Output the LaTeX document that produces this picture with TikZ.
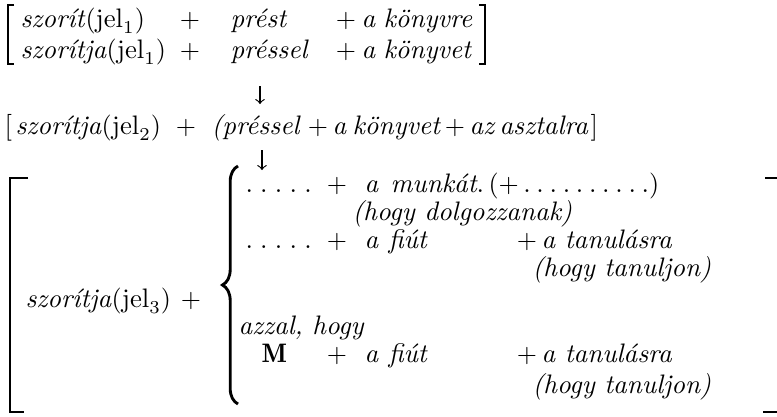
\documentclass[tikz,border=0pt]{standalone}
\usepackage{fontspec}
\usepackage{amsmath}
\usetikzlibrary{decorations.pathreplacing}

\newcommand{\pd}{.\hspace{2.8pt}}
\newcommand{\sd}{.\hspace{2.2pt}}

\tikzset{
  wd/.style={anchor=base west,inner sep=0pt},
  pl/.style={anchor=base,inner sep=0pt},
  brk/.style={line width=0.6pt},
  bigbrk/.style={line width=1.1pt},
  arr/.style={->,line width=0.45pt}
}

\begin{document}
\begin{tikzpicture}[x=0.385pt,y=-0.385pt,every node/.style={font=\fontsize{10.3}{12.5}\selectfont}]
\useasboundingbox (0,0) rectangle (777,416);

\draw[brk] (14,5) -- (8,5) -- (8,64) -- (14,64);
\node[wd] (sz1) at (20,27) {\textit{szorít}$(\mathrm{jel}_1)$};
\node[pl] (p11) at (190,27) {$+$};
\node[wd] (prest) at (230,27) {\textit{prést}};
\node[pl] (p12) at (346,27) {$+$};
\node[wd] (a11) at (361,27) {\textit{a}};
\node[wd] (konyvre) at (383,27) {\textit{könyvre}};
\node[wd] (sz1b) at (20,58) {\textit{szorítja}$(\mathrm{jel}_1)$};
\node[pl] (p21) at (190,58) {$+$};
\node[wd] (pressel) at (230,58) {\textit{préssel}};
\node[pl] (p22) at (346,58) {$+$};
\node[wd] (a12) at (361,58) {\textit{a}};
\node[wd] (konyvet) at (383,58) {\textit{könyvet}};
\draw[brk] (479,5) -- (485,5) -- (485,64) -- (479,64);

\coordinate (ar1s) at (260,86);
\coordinate (ar1e) at (260,104);
\draw[arr] (ar1s) -- (ar1e);

\node[wd] (lb2) at (4,134) {[};
\node[wd] (sz2) at (15,134) {\textit{szorítja}$(\mathrm{jel}_2)$};
\node[pl] (p31) at (186,134) {$+$};
\node[wd] (pressel2) at (211,134) {\textit{(préssel}};
\node[pl] (p32) at (318,134) {$+$};
\node[wd] (a2) at (332,134) {\textit{a}};
\node[wd] (konyvet2) at (352,134) {\textit{könyvet}};
\node[pl] (p33) at (455,134) {$+$};
\node[wd] (az) at (469,134) {\textit{az}};
\node[wd] (asztalra) at (499,134) {\textit{asztalra}};
\node[wd] (rb2) at (590,134) {]};

\coordinate (ar2s) at (262,150);
\coordinate (ar2e) at (262,170);
\draw[arr] (ar2s) -- (ar2e);

\draw[bigbrk] (28,178) -- (10,178) -- (10,412) -- (24,412);
\draw[bigbrk] (765,178) -- (777,178);
\draw[bigbrk] (763,412) -- (777,412);
\node[wd] (sz3) at (25,307) {\textit{szorítja}$(\mathrm{jel}_3)$};
\node[pl] (p3) at (191,307) {$+$};
\draw[bigbrk,decorate,decoration={brace,amplitude=6pt}] (238,404) -- (238,166);

\node[wd] (dots1) at (245,192) {\pd\pd\pd\pd.};
\node[pl] (q1) at (337,192) {$+$};
\node[wd] (a31) at (364,192) {\textit{a}};
\node[wd] (munkat) at (390,192) {\textit{munkát}.\,$(+$\,\sd\sd\sd\sd\sd\sd\sd\sd\sd.$)$};
\node[wd] (dolg) at (352,220) {\textit{(hogy dolgozzanak)}};
\node[wd] (dots2) at (245,248) {\pd\pd\pd\pd.};
\node[pl] (q2) at (337,248) {$+$};
\node[wd] (a32) at (364,248) {\textit{a}};
\node[wd] (fiut1) at (388,248) {\textit{fiút}};
\node[pl] (q3) at (527,248) {$+$};
\node[wd] (tan1) at (541,248) {\textit{a tanulásra}};
\node[wd] (tanj1) at (532,276) {\textit{(hogy tanuljon)}};
\node[wd] (azzal) at (238,334) {\textit{azzal, hogy}};
\node[wd] (mm) at (261,362) {$\mathbf{M}$};
\node[pl] (q4) at (337,362) {$+$};
\node[wd] (a33) at (364,362) {\textit{a}};
\node[wd] (fiut2) at (388,362) {\textit{fiút}};
\node[pl] (q5) at (527,362) {$+$};
\node[wd] (tan2) at (541,362) {\textit{a tanulásra}};
\node[wd] (tanj2) at (532,393) {\textit{(hogy tanuljon)}};
\end{tikzpicture}
\end{document}
